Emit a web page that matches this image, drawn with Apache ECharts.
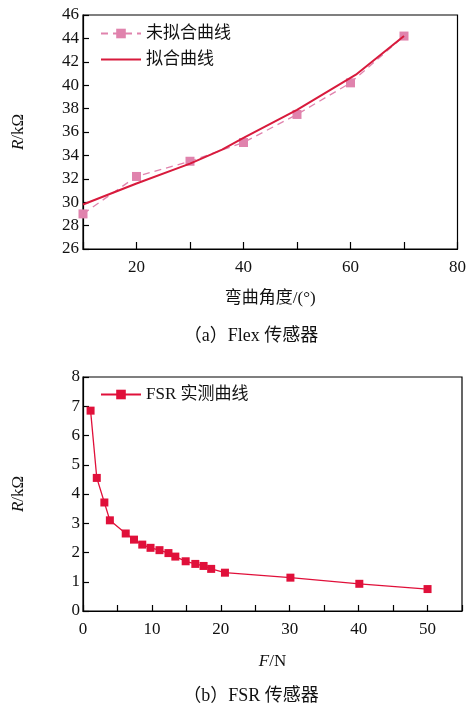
<!DOCTYPE html>
<html>
<head>
<meta charset="utf-8">
<script src="https://cdn.jsdelivr.net/npm/echarts@6/dist/echarts.min.js"></script>
<style>
	html, body { margin: 0; padding: 0; background: #fff; }
	#chart { width: 469px; height: 706px; }
</style>
</head>
<body>
<div id="chart"></div>
<script>
// (a) Flex 传感器
const flexAngle = [10, 20, 30, 40, 50, 60, 70]
const flexRaw = [29.0, 32.2, 33.5, 35.1, 37.5, 40.2, 44.2]
const fitAngle = [10, 20, 30, 36, 40, 50, 61, 70]
const fitValue = [29.8, 31.6, 33.3, 34.5, 35.5, 37.9, 40.9, 44.2]

// (b) FSR 传感器
const fsrForce = [1.1, 2.0, 3.1, 3.9, 6.2, 7.4, 8.6, 9.8, 11.1, 12.4, 13.4, 14.9, 16.3, 17.5, 18.6, 20.6, 30.1, 40.1, 50.0]
const fsrR = [6.85, 4.55, 3.71, 3.1, 2.65, 2.44, 2.27, 2.16, 2.08, 1.98, 1.86, 1.70, 1.61, 1.54, 1.44, 1.31, 1.14, 0.93, 0.75]

const serif = '"Liberation Serif", "Noto Sans CJK SC", serif'
const pink = '#e083ad'
const red = '#d81a3c'

const zip = (a, b) => a.map((v, i) => [v, b[i]])

// 坐标轴通用样式
function axisBase(extra) {
	return Object.assign({
		axisLine: { show: true, onZero: false, lineStyle: { color: '#000', width: 1.2 } },
		axisTick: { show: true, inside: true, length: 6, lineStyle: { color: '#000', width: 1.2 } },
		splitLine: { show: false },
		axisLabel: { color: '#111', fontFamily: serif, fontSize: 17 }
	}, extra)
}

const rNameStyle = {
	fontFamily: serif,
	fontSize: 17,
	color: '#111',
	rich: {
		i: { fontFamily: serif, fontSize: 17, fontStyle: 'italic', color: '#111' },
		n: { fontFamily: serif, fontSize: 17, color: '#111' }
	}
}

const chart = echarts.init(document.getElementById('chart'))
chart.setOption({
	backgroundColor: '#fff',
	animation: false,
	title: [
		{
			text: '（a）Flex 传感器',
			left: 246, top: 322, textAlign: 'center',
			textStyle: { fontFamily: serif, fontSize: 18, fontWeight: 'normal', color: '#111' }
		},
		{
			text: '（b）FSR 传感器',
			left: 246, top: 682, textAlign: 'center',
			textStyle: { fontFamily: serif, fontSize: 18, fontWeight: 'normal', color: '#111' }
		}
	],
	legend: [
		{
			left: 100, top: 25, padding: 0, orient: 'vertical', itemGap: 9, itemWidth: 40, itemHeight: 12,
			textStyle: { fontFamily: serif, fontSize: 17, color: '#111' },
			// 拟合曲线图例只显示线段，不要标记点
			data: ['未拟合曲线', { name: '拟合曲线', itemStyle: { opacity: 0 } }]
		},
		{
			left: 100, top: 386, padding: 0, itemWidth: 40, itemHeight: 12,
			textStyle: { fontFamily: serif, fontSize: 17, color: '#111' },
			data: ['FSR 实测曲线']
		}
	],
	grid: [
		{ left: 83, top: 15, width: 379, height: 234, show: true, borderColor: '#000', borderWidth: 1.2 },
		{ left: 83, top: 377, width: 379, height: 234, show: true, borderColor: '#000', borderWidth: 1.2 }
	],
	xAxis: [
		axisBase({
			gridIndex: 0, type: 'value', min: 10, max: 80, interval: 10,
			axisLabel: {
				color: '#111', fontFamily: serif, fontSize: 17, margin: 10,
				formatter: (v) => (v % 20 === 0 ? v : '')
			},
			axisTick: { show: true, inside: true, length: 7, lineStyle: { color: '#000', width: 1.2 },
				interval: (i, v) => v % 20 === 0 },
			name: '弯曲角度/(°)', nameLocation: 'middle', nameGap: 41,
			nameTextStyle: { fontFamily: serif, fontSize: 17, color: '#111' }
		}),
		axisBase({
			gridIndex: 1, type: 'value', min: 0, max: 55, interval: 5,
			axisLabel: {
				color: '#111', fontFamily: serif, fontSize: 17, margin: 10,
				formatter: (v) => (v % 10 === 0 ? v : '')
			},
			axisTick: { show: true, inside: true, length: 6, lineStyle: { color: '#000', width: 1.2 },
				interval: (i, v) => v % 10 === 0 },
			name: '{i|F}{n|/N}', nameLocation: 'middle', nameGap: 42,
			nameTextStyle: rNameStyle
		})
	],
	yAxis: [
		axisBase({
			gridIndex: 0, type: 'value', min: 26, max: 46, interval: 2,
			axisLabel: { color: '#111', fontFamily: serif, fontSize: 17, margin: 4 },
			name: '{i|R}{n|/kΩ}', nameLocation: 'middle', nameGap: 56, nameRotate: 90,
			nameTextStyle: rNameStyle
		}),
		axisBase({
			gridIndex: 1, type: 'value', min: 0, max: 8, interval: 1,
			axisLabel: { color: '#111', fontFamily: serif, fontSize: 17, margin: 3 },
			name: '{i|R}{n|/kΩ}', nameLocation: 'middle', nameGap: 56, nameRotate: 90,
			nameTextStyle: rNameStyle
		})
	],
	series: [
		{
			name: '未拟合曲线', type: 'line', xAxisIndex: 0, yAxisIndex: 0,
			data: zip(flexAngle, flexRaw),
			symbol: 'rect', symbolSize: 9,
			itemStyle: { color: pink },
			lineStyle: { color: pink, width: 1.3, type: [7, 5] },
			z: 2
		},
		{
			name: '拟合曲线', type: 'line', xAxisIndex: 0, yAxisIndex: 0,
			data: zip(fitAngle, fitValue),
			symbol: 'none',
			itemStyle: { color: red },
			lineStyle: { color: red, width: 2 },
			z: 3
		},
		{
			name: 'FSR 实测曲线', type: 'line', xAxisIndex: 1, yAxisIndex: 1,
			data: zip(fsrForce, fsrR),
			symbol: 'rect', symbolSize: 8,
			itemStyle: { color: '#e0103a' },
			lineStyle: { color: '#e0103a', width: 1.3 }
		}
	]
})
</script>
</body>
</html>
